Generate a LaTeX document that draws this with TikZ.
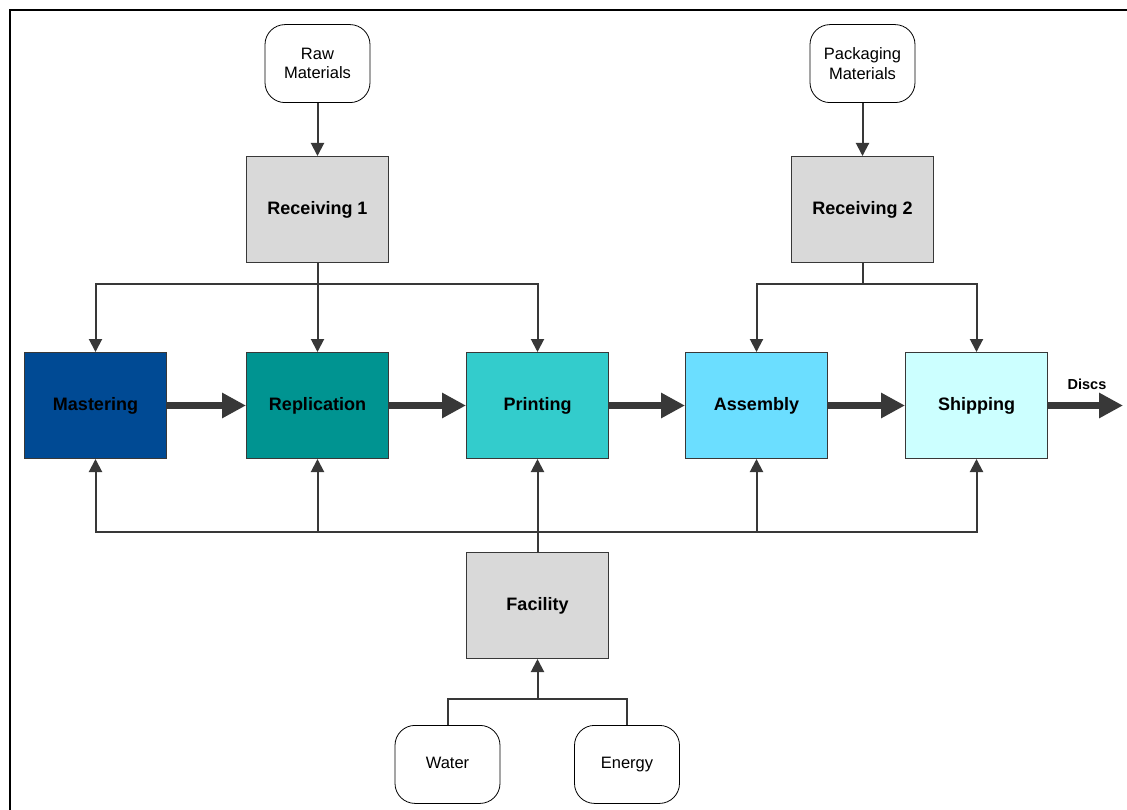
\documentclass[tikz,border=0pt]{standalone}
\usepackage{fontspec}
\setmainfont{Liberation Sans}
\usetikzlibrary{arrows.meta,positioning}
\definecolor{masterBlue}{rgb}{0.0, 0.29, 0.58}
\definecolor{replTeal}{rgb}{0.0, 0.58, 0.57}
\definecolor{printCyan}{rgb}{0.2, 0.8, 0.8}
\definecolor{assemblySky}{rgb}{0.42, 0.87, 1.0}
\definecolor{shipPale}{rgb}{0.8, 1.0, 1.0}
\definecolor{boxGray}{rgb}{0.85, 0.85, 0.85}
\definecolor{lineGray}{rgb}{0.22, 0.22, 0.22}

\begin{document}
\begin{tikzpicture}[x=1pt, y=1pt,
			procBox/.style={draw=lineGray, rectangle, line width=0.8pt, inner sep=0pt, minimum width=142.2pt, minimum height=106.2pt, font=\fontsize{18}{21}\selectfont\bfseries},
			recvBox/.style={procBox, fill=boxGray},
			inputBox/.style={draw=black, rectangle, rounded corners=20pt, line width=0.8pt, fill=white, inner sep=0pt, minimum width=105pt, minimum height=78pt, align=center, font=\fontsize{16.5}{19.5}\selectfont},
			title/.style={fill=none, font=\fontsize{14.5}{17}\selectfont\bfseries, align=center},
			frame/.style={line width=2pt, black},
			line/.style={line width=2pt, draw=lineGray},
			arrow/.style={line, -{Triangle[length=13pt, width=13pt]}},
			arrowStrong/.style={line width=7pt, draw=lineGray, -{Triangle[length=24pt, width=24pt]}},
			]
			\useasboundingbox (0,0) rectangle (1127,-810);
			\draw [frame] (9.5,-810) -- (9.5,-10) -- (1127,-10);
			
			% process chain
			\draw node[procBox, fill=masterBlue] (mastering) at (95.5,-405.5) {Mastering};
			\draw node[procBox, fill=replTeal, right=79pt of mastering] (replication) {Replication};
			\draw node[procBox, fill=printCyan, right=77pt of replication] (printing) {Printing};
			\draw node[procBox, fill=assemblySky, right=76pt of printing] (assembly) {Assembly};
			\draw node[procBox, fill=shipPale, right=77pt of assembly] (shipping) {Shipping};
			
			% receiving
			\draw node[recvBox, above=89pt of replication] (receiving1) {Receiving 1};
			\draw node[recvBox, xshift=106pt, above=89pt of assembly] (receiving2) {Receiving 2};
			\draw node[inputBox, above=53pt of receiving1] (rawMat) {Raw\\Materials};
			\draw node[inputBox, above=53pt of receiving2] (packMat) {Packaging\\Materials};
			
			% facility
			\draw node[recvBox, below=93pt of printing] (facility) {Facility};
			\draw node[inputBox, xshift=-90pt, below=66pt of facility] (water) {Water\strut};
			\draw node[inputBox, xshift=89.5pt, below=66pt of facility] (energy) {Energy\strut};
			\coordinate (utilJoin) at ([yshift=-40pt]facility.south);
			
			% Arrow
			\draw [arrow] (rawMat) -- (receiving1);
			\draw [arrow] (packMat) -- (receiving2);
			
			\draw [arrow] (receiving1.south) -- (replication.north);
			\foreach \x in {mastering, printing}
			\draw [arrow] (receiving1.south) -- ++(0,-21) -| (\x.north);
			\foreach \x in {assembly, shipping}
			\draw [arrow] (receiving2.south) -- ++(0,-21) -| (\x.north);
			
			\draw [arrow] (facility.north) -- (printing.south);
			\foreach \x in {mastering, replication, assembly, shipping}
			\draw [arrow] (facility.north) -- ++(0,20) -| (\x.south);
			
			\draw [line] (water.north) |- (utilJoin) -| (energy.north);
			\draw [arrow] (utilJoin) -- (facility.south);
			
			\draw [arrowStrong] (mastering.east) -- (replication.west);
			\draw [arrowStrong] (replication.east) -- (printing.west);
			\draw [arrowStrong] (printing.east) -- (assembly.west);
			\draw [arrowStrong] (assembly.east) -- (shipping.west);
			
			\coordinate (discsEnd) at ([xshift=75pt]shipping.east);
			\draw [arrowStrong] (shipping.east) -- (discsEnd);
			\draw node[title] (discsText) at ([xshift=39pt, yshift=21pt]shipping.east) {Discs};
			
		\end{tikzpicture}
\end{document}
